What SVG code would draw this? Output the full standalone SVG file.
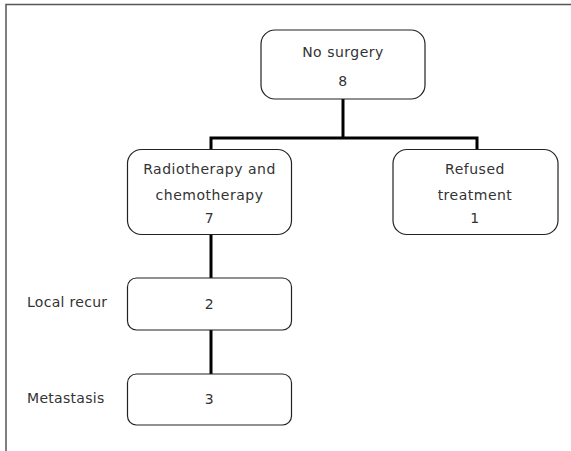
<svg xmlns="http://www.w3.org/2000/svg" width="571" height="451" viewBox="0 0 571 451">
<style>
.box{fill:#fff;stroke:#222;stroke-width:1.2}
.t{font-family:"DejaVu Sans",sans-serif;font-size:14px;letter-spacing:0.5px;fill:#333;text-anchor:middle}
.l{font-family:"DejaVu Sans",sans-serif;font-size:14px;letter-spacing:0.3px;fill:#333}
.c{stroke:#000;stroke-width:3;fill:none}
</style>
<rect width="571" height="451" fill="#fff"/>
<path d="M6 451 V4.5 H571" fill="none" stroke="#555" stroke-width="1.5"/>
<g id="connectors">
<path class="c" d="M343 99 V138 M211 149 V138 H477 V149"/>
<path class="c" d="M211 235 V278"/>
<path class="c" d="M211 330 V374" stroke-width="2.5"/>
</g>
<g id="n1"><rect class="box" x="261" y="30" width="164" height="69" rx="14"/>
<text class="t" x="343" y="57">No surgery</text><text class="t" x="343" y="86">8</text></g>
<g id="n2"><rect class="box" x="127.5" y="149.5" width="164" height="85" rx="14"/>
<text class="t" x="209.5" y="174">Radiotherapy and</text><text class="t" x="209.5" y="200">chemotherapy</text><text class="t" x="209.5" y="223">7</text></g>
<g id="n3"><rect class="box" x="393" y="149.5" width="165" height="85" rx="14"/>
<text class="t" x="475" y="174">Refused</text><text class="t" x="475" y="200">treatment</text><text class="t" x="475" y="223">1</text></g>
<g id="n4"><rect class="box" x="127.5" y="278" width="164" height="52" rx="9"/>
<text class="t" x="209.5" y="309">2</text></g>
<g id="n5"><rect class="box" x="127.5" y="374" width="164" height="51" rx="9"/>
<text class="t" x="209.5" y="404">3</text></g>
<text class="l" x="27" y="307">Local recur</text>
<text class="l" x="27" y="403">Metastasis</text>
</svg>
